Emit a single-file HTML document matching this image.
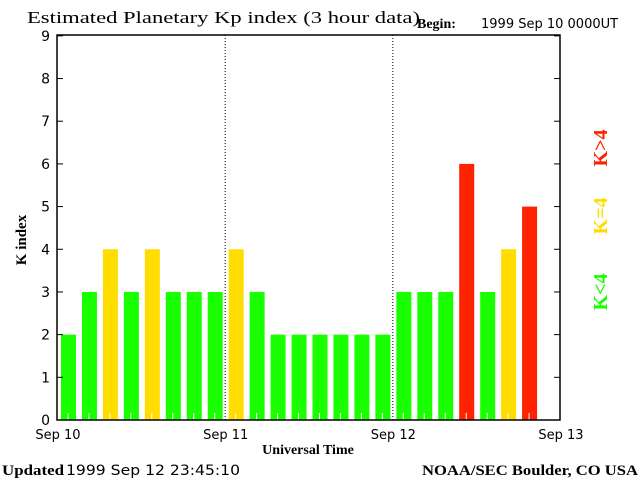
<!DOCTYPE html>
<html><head><meta charset="utf-8">
<style>
body{margin:0;background:#fff;}
svg{display:block;}
.serif{font-family:"Liberation Serif",serif;}
.sans{font-family:"DejaVu Sans","Liberation Sans",sans-serif;}
</style></head>
<body>
<svg id="chart" width="640" height="480" viewBox="0 0 640 480" xmlns="http://www.w3.org/2000/svg">
<text class="serif" x="27" y="23" font-size="17" textLength="393" lengthAdjust="spacingAndGlyphs">Estimated Planetary Kp index (3 hour data)</text>
<text class="serif" x="417" y="28" font-size="14" font-weight="bold">Begin:</text>
<text class="sans" x="481" y="28" font-size="13">1999 Sep 10 0000UT</text>
<text class="serif" transform="translate(26,240) rotate(-90)" text-anchor="middle" font-size="15" font-weight="bold">K index</text>
<text class="serif" x="308" y="454" text-anchor="middle" font-size="14" font-weight="bold">Universal Time</text>
<text class="serif" x="2" y="475" font-size="15" font-weight="bold" textLength="62" lengthAdjust="spacingAndGlyphs">Updated</text>
<text class="sans" x="66" y="475" font-size="14" textLength="174" lengthAdjust="spacingAndGlyphs">1999 Sep 12 23:45:10</text>
<text class="serif" x="422" y="475" font-size="15" font-weight="bold" textLength="216" lengthAdjust="spacingAndGlyphs">NOAA/SEC Boulder, CO USA</text>
<text class="serif" transform="translate(607,148) rotate(-90)" text-anchor="middle" font-size="20" font-weight="bold" fill="#ff2200">K&gt;4</text>
<text class="serif" transform="translate(607,216) rotate(-90)" text-anchor="middle" font-size="20" font-weight="bold" fill="#ffdd00">K=4</text>
<text class="serif" transform="translate(607,292) rotate(-90)" text-anchor="middle" font-size="20" font-weight="bold" fill="#1aff00">K&lt;4</text>
<g id="plot"></g>
</svg>
<script>
const kpValues = [2,3,4,3,4,3,3,3, 4,3,2,2,2,2,2,2, 3,3,3,6,3,4,5];
const yTicks = [0,1,2,3,4,5,6,7,8,9];
const dayLabels = ["Sep 10","Sep 11","Sep 12","Sep 13"];
const NS="http://www.w3.org/2000/svg";
const L=57,R=560,T=35,B=420,slots=24;
const yS=v=>B-(B-T)*v/9.02;
const slotW=(R-L)/slots;
const xS=i=>L+i*slotW;
const g=document.getElementById('plot');
function mk(t,a){const e=document.createElementNS(NS,t);for(const k in a)e.setAttribute(k,a[k]);g.appendChild(e);return e;}
kpValues.forEach((v,i)=>{
  const col=v>4?"#ff2200":(v===4?"#ffdd00":"#1aff00");
  const r=mk('rect',{x:xS(i)+4,y:yS(v),width:15,height:B-yS(v),fill:col});
  
  
});
for(let i=0;i<slots;i++){
  const x=xS(i)+slotW/2+0.5;
  const t=mk('line',{x1:x,x2:x,y1:B,y2:B-7,stroke:"#fff","stroke-width":1});
  
  
}
[1,2].forEach(d=>{
  const x=xS(d*8)+0.5;
  const l=mk('line',{x1:x,x2:x,y1:T,y2:B,stroke:"#000","stroke-width":1,"stroke-dasharray":"1,2"});
  
  
});
const ax=mk('rect',{x:L,y:T,width:R-L,height:B-T,fill:"none",stroke:"#000","stroke-width":1.5});


yTicks.forEach(v=>{
  const y=yS(v);
  mk('line',{x1:L,x2:L+6,y1:y,y2:y,stroke:"#000"});
  mk('line',{x1:R-6,x2:R,y1:y,y2:y,stroke:"#000"});
  const t=mk('text',{x:L-7,y:y+5,"text-anchor":"end","font-size":"14","font-family":"DejaVu Sans, Liberation Sans, sans-serif"});
  t.textContent=v;
  
  
});
dayLabels.forEach((s,d)=>{
  const t=mk('text',{x:xS(d*8)+1,y:439,"text-anchor":"middle","font-size":"13","font-family":"DejaVu Sans, Liberation Sans, sans-serif"});
  t.textContent=s;
  
  
});
</script>
</body></html>
